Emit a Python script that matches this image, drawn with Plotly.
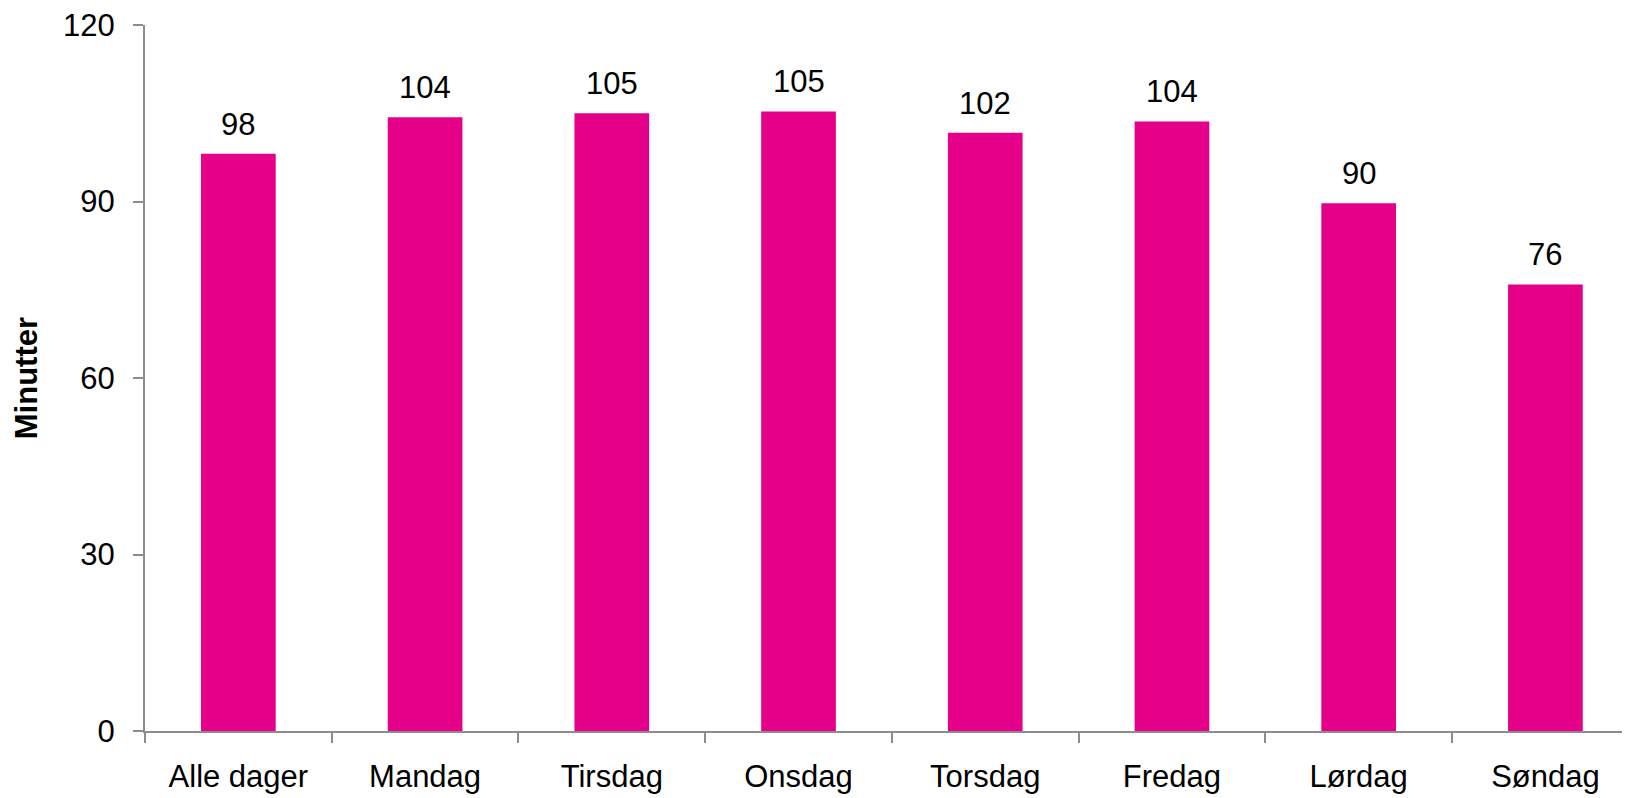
import plotly.graph_objects as go

# Minutes per day
days = ["Alle dager", "Mandag", "Tirsdag", "Onsdag", "Torsdag", "Fredag", "Lørdag", "Søndag"]
minutes = [98.1, 104.3, 105.0, 105.3, 101.7, 103.6, 89.7, 75.9]
labels = ["98", "104", "105", "105", "102", "104", "90", "76"]
y_ticks = [0, 30, 60, 90, 120]

font = "Liberation Sans, Arial, sans-serif"
axis_grey = "#8c8c8c"

fig = go.Figure()
fig.add_trace(go.Bar(x=days, y=minutes, width=0.4,
                     marker=dict(color="#E5008A", line=dict(width=0)),
                     hoverinfo="x+y"))

# value labels above the bars
for d, v, t in zip(days, minutes, labels):
    fig.add_annotation(x=d, y=v, text=t, showarrow=False,
                       yanchor="bottom", yshift=10,
                       font=dict(family=font, size=31, color="black"))

# y-axis title as rotated annotation
fig.add_annotation(x=-0.08, y=0.5, xref="paper", yref="paper",
                   text="<b>Minutter</b>", textangle=-90, showarrow=False,
                   xanchor="center", yanchor="middle",
                   font=dict(family=font, size=31, color="black"))

# page body has an 8px margin, so the margins are trimmed by that
fig.update_layout(
    width=1630, height=798,
    margin=dict(l=137, r=8, t=17, b=75, autoexpand=False),
    paper_bgcolor="white", plot_bgcolor="white",
    showlegend=False,
    font=dict(family=font, size=31, color="black"),
    xaxis=dict(range=[-0.5, 7.453], showgrid=False, zeroline=False,
               showline=True, linecolor=axis_grey, linewidth=2,
               ticks="outside", tickson="boundaries", ticklen=10,
               tickcolor=axis_grey, tickwidth=2, ticklabelstandoff=17,
               automargin=False,
               tickfont=dict(family=font, size=31, color="black")),
    yaxis=dict(range=[0, 120], tickvals=y_ticks, showgrid=False, zeroline=False,
               showline=True, linecolor=axis_grey, linewidth=2,
               ticks="outside", ticklen=10, tickcolor=axis_grey, tickwidth=2,
               ticklabelstandoff=12, ticklabeloverflow="allow",
               automargin=False,
               tickfont=dict(family=font, size=31, color="black")),
)

fig.write_html("out.html")
